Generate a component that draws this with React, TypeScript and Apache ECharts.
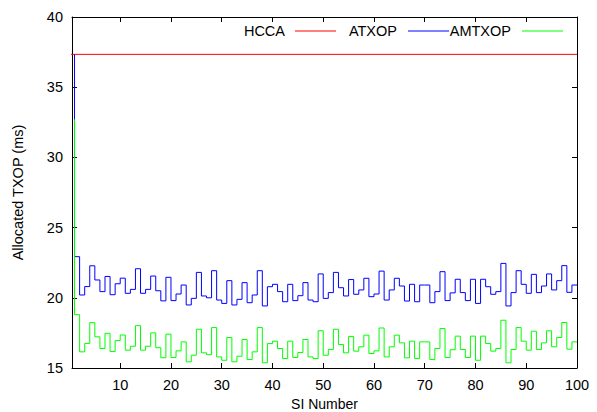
import React, { useEffect, useRef } from "react";
import * as echarts from "echarts";

// SI numbers 1..100 (x positions of the samples)
const siNumbers: number[] = Array.from({ length: 100 }, (_, i) => i + 1);

// Constant HCCA allocation (ms)
const hccaX: number[] = [0, 100];
const hccaValues: number[] = [37.34, 37.34];

// ATXOP allocated TXOP per SI (ms)
const atxop: number[] = [
  37.34,
  22.93, 20.2, 20.8, 22.28, 21.27, 20.44, 21.52, 20.22, 21.0, 21.4,
  20.32, 20.6, 22.07, 20.32, 20.6, 21.55, 20.5, 19.78, 21.46, 19.8,
  20.27, 20.91, 19.49, 19.96, 21.81, 20.13, 20.0, 21.93, 19.84, 19.6,
  21.22, 19.49, 19.89, 21.08, 19.65, 20.2, 21.93, 19.42, 20.79, 20.96,
  20.44, 19.72, 20.96, 19.8, 20.15, 21.08, 19.84, 19.72, 21.7, 19.96,
  20.37, 21.81, 20.72, 20.13, 21.3, 20.25, 20.56, 21.39, 20.08, 20.27,
  21.9, 19.84, 20.56, 21.39, 20.84, 19.77, 20.96, 19.72, 20.91, 20.91,
  19.65, 20.44, 21.86, 19.8, 20.35, 21.32, 20.37, 19.8, 21.32, 19.6,
  21.32, 20.79, 20.25, 20.44, 22.45, 19.42, 20.37, 21.93, 20.96, 20.32,
  21.67, 20.37, 20.84, 21.7, 20.56, 21.22, 22.29, 20.39, 20.91,
];

// AMTXOP allocated TXOP per SI (ms)
const amtxop: number[] = [
  32.71,
  18.8, 16.15, 16.75, 18.23, 17.22, 16.39, 17.47, 16.17, 16.95, 17.35,
  16.27, 16.55, 18.02, 16.27, 16.55, 17.5, 16.45, 15.73, 17.41, 15.75,
  16.22, 16.86, 15.44, 15.91, 17.76, 16.08, 15.95, 17.88, 15.79, 15.55,
  17.17, 15.44, 15.84, 17.03, 15.6, 16.15, 17.88, 15.37, 16.74, 16.91,
  16.39, 15.67, 16.91, 15.75, 16.1, 17.03, 15.79, 15.67, 17.65, 15.91,
  16.32, 17.76, 16.67, 16.08, 17.25, 16.2, 16.51, 17.34, 16.03, 16.22,
  17.85, 15.79, 16.51, 17.34, 16.79, 15.72, 16.91, 15.67, 16.86, 16.86,
  15.6, 16.39, 17.81, 15.75, 16.3, 17.27, 16.32, 15.75, 17.27, 15.55,
  17.27, 16.74, 16.2, 16.39, 18.4, 15.37, 16.32, 17.88, 16.91, 16.27,
  17.62, 16.32, 16.79, 17.65, 16.51, 17.17, 18.24, 16.34, 16.86,
];

const xTicks: number[] = [10, 20, 30, 40, 50, 60, 70, 80, 90, 100];
const seriesNames: string[] = ["HCCA", "ATXOP", "AMTXOP"];
const seriesColors: string[] = ["#ff0000", "#0000ff", "#00ff00"];

const FONT = "'Liberation Sans', Arial, Helvetica, sans-serif";
const FS = 14.5;

export default function App() {
  const ref = useRef<HTMLDivElement>(null);

  useEffect(() => {
    if (!ref.current) return;
    const chart = echarts.init(ref.current, undefined, { renderer: "svg" });

    const xCommon = {
      type: "value" as const,
      min: 0.5,
      max: 100,
      splitLine: { show: false },
      axisLine: { show: true, onZero: false, lineStyle: { color: "#000", width: 1 } },
      axisTick: {
        show: true,
        inside: true,
        length: 5,
        customValues: xTicks,
        lineStyle: { color: "#000" },
      },
    };
    const yCommon = {
      type: "value" as const,
      min: 15,
      max: 40,
      interval: 5,
      splitLine: { show: false },
      axisLine: { show: true, onZero: false, lineStyle: { color: "#000", width: 1 } },
      axisTick: { show: true, inside: true, length: 5, lineStyle: { color: "#000" } },
    };

    const legendRight = [285, 397, 511];
    const sampleStart = [295, 408, 522];
    const graphic: any[] = [];
    seriesNames.forEach((n, i) => {
      graphic.push({
        type: "text",
        x: legendRight[i],
        y: 31,
        style: {
          text: n,
          fill: "#000",
          font: `${FS}px ${FONT}`,
          align: "right",
          verticalAlign: "middle",
        },
      });
      graphic.push({
        type: "line",
        shape: { x1: sampleStart[i], y1: 31, x2: sampleStart[i] + 41, y2: 31 },
        style: { stroke: seriesColors[i], lineWidth: 1 },
      });
    });

    chart.setOption({
      animation: false,
      backgroundColor: "#fff",
      grid: {
        left: 72,
        right: 20,
        top: 17,
        bottom: 44,
        containLabel: false,
        outerBoundsMode: "none",
      },
      xAxis: [
        {
          ...xCommon,
          position: "bottom",
          name: "SI Number",
          nameLocation: "middle",
          nameGap: 28,
          nameTextStyle: { color: "#000", fontSize: 14, fontFamily: FONT },
          axisLabel: {
            show: true,
            customValues: xTicks,
            color: "#000",
            fontSize: FS,
            fontFamily: FONT,
            margin: 9,
          },
        },
        {
          ...xCommon,
          position: "top",
          axisLabel: { show: false },
        },
      ],
      yAxis: [
        {
          ...yCommon,
          position: "left",
          name: "Allocated TXOP (ms)",
          nameLocation: "middle",
          nameGap: 47,
          nameTextStyle: { color: "#000", fontSize: FS, fontFamily: FONT },
          axisLabel: { show: true, color: "#000", fontSize: FS, fontFamily: FONT, margin: 9 },
        },
        {
          ...yCommon,
          position: "right",
          axisLabel: { show: false },
        },
      ],
      graphic,
      series: [
        {
          name: seriesNames[0],
          type: "line",
          xAxisIndex: 0,
          yAxisIndex: 0,
          data: hccaX.map((x, i) => [x, hccaValues[i]]),
          symbol: "none",
          clip: true,
          lineStyle: { color: seriesColors[0], width: 1 },
          itemStyle: { color: seriesColors[0] },
        },
        {
          name: seriesNames[1],
          type: "line",
          step: "start",
          xAxisIndex: 0,
          yAxisIndex: 0,
          data: siNumbers.map((x, i) => [x, atxop[i]]),
          symbol: "none",
          clip: true,
          lineStyle: { color: seriesColors[1], width: 1 },
          itemStyle: { color: seriesColors[1] },
        },
        {
          name: seriesNames[2],
          type: "line",
          step: "start",
          xAxisIndex: 0,
          yAxisIndex: 0,
          data: siNumbers.map((x, i) => [x, amtxop[i]]),
          symbol: "none",
          clip: true,
          lineStyle: { color: seriesColors[2], width: 1 },
          itemStyle: { color: seriesColors[2] },
        },
      ],
    });

    return () => chart.dispose();
  }, []);

  return (
    <div
      ref={ref}
      style={{ position: "fixed", left: 0, top: 0, width: 597, height: 412, background: "#fff" }}
    />
  );
}
